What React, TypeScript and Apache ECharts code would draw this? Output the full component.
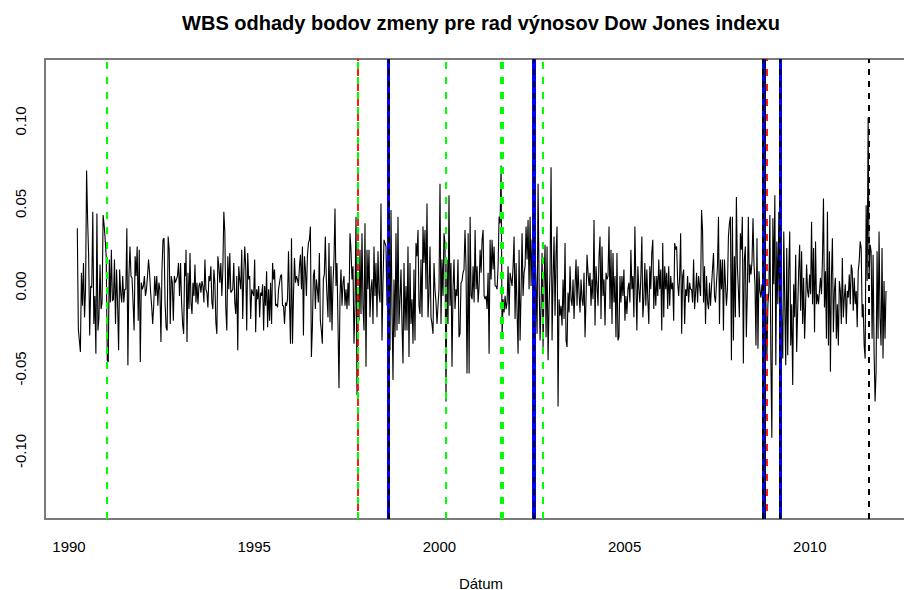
import React, { useEffect, useRef } from "react";
import * as echarts from "echarts";

const TITLE = "WBS odhady bodov zmeny pre rad výnosov Dow Jones indexu";
const X_NAME = "Dátum";
const xTicks = [1990, 1995, 2000, 2005, 2010];
const yTicks = [-0.1, -0.05, 0, 0.05, 0.1];

// weekly returns in six consecutive stretches
const segStart = [1990.224, 1993.159, 1996.965, 2000.775, 2004.579, 2008.386];
const segEnd = [1993.151, 1996.947, 2000.772, 2004.552, 2008.367, 2012.057];

const ret1 = [0.035,-0.026,-0.033,-0.040,0.008,-0.012,0.014,-0.019,-0.002,0.070,0.040,0.018,-0.030,0.000,-0.001,0.045,-0.023,-0.006,-0.041,0.044,-0.027,-0.019,0.013,-0.014,-0.010,0.043,0.037,0.028,0.018,-0.045,-0.046,0.016,-0.010,0.022,-0.009,-0.008,0.016,-0.023,0.010,-0.010,-0.039,0.010,-0.004,-0.010,0.006,-0.010,-0.002,-0.002,0.035,-0.048,0.006,0.024,0.006,0.005,-0.010,-0.027,0.018,0.006,0.024,-0.021,0.022,-0.046,0.002,-0.002,0.000,0.006,-0.006,-0.002,0.006,0.016,0.008,-0.004,-0.012,-0.023,-0.012,0.006,-0.006,0.006,-0.012,0.002,-0.002,-0.034,0.010,0.028,0.029,-0.010,-0.025,-0.027,0.030,0.022,-0.023,0.006,0.002,-0.021,0.006,0.002,0.004,0.006,0.014,-0.006,0.014,-0.010,-0.023,-0.029,0.014,0.006];
const ret2 = [0.022,-0.034,0.008,-0.014,0.020,-0.010,-0.017,0.002,-0.006,0.013,-0.010,0.002,-0.011,0.000,0.002,-0.004,0.003,0.000,-0.010,0.016,-0.002,-0.004,-0.013,0.006,0.003,0.012,-0.010,-0.014,0.010,0.002,-0.022,-0.029,0.018,0.012,0.002,0.014,-0.006,0.010,0.045,0.033,-0.014,-0.027,0.018,-0.002,0.020,-0.004,-0.003,-0.002,0.014,-0.010,-0.017,0.006,-0.039,0.012,0.004,-0.002,0.022,-0.020,0.006,0.024,0.012,-0.027,0.020,0.004,0.006,-0.020,-0.002,-0.004,-0.006,0.016,-0.028,-0.002,-0.008,0.000,-0.019,-0.004,-0.006,0.001,-0.027,0.000,-0.012,0.009,-0.025,-0.002,-0.021,0.002,-0.023,0.014,0.004,0.010,-0.012,-0.011,-0.013,-0.002,0.002,0.006,0.007,-0.012,-0.012,-0.023,-0.010,-0.012,-0.008,0.021,-0.010,-0.035,0.029,-0.035,-0.006,0.017,0.002,0.006,0.004,0.000,0.012,0.019,-0.002,0.024,-0.030,0.018,0.010,-0.006,0.018,0.026,0.028,0.036,-0.043,-0.025,0.006,0.010,-0.014,0.004,-0.002,-0.010,0.020,-0.021,-0.027,-0.035,0.004,0.007,0.030,0.004];
const ret3 = [-0.006,-0.019,0.026,-0.022,0.012,-0.027,0.002,0.016,0.047,0.000,0.014,-0.023,-0.062,-0.006,0.010,-0.012,0.002,0.006,-0.012,-0.002,-0.014,0.002,-0.012,0.032,0.022,0.004,0.012,-0.035,-0.012,0.042,-0.066,-0.002,-0.021,0.022,-0.017,0.032,-0.012,-0.027,0.038,-0.049,0.022,-0.002,0.022,-0.019,-0.002,0.004,-0.023,0.024,-0.006,0.014,-0.019,0.021,-0.004,-0.010,0.050,-0.033,0.002,0.028,0.026,0.024,-0.012,0.048,-0.023,-0.039,0.046,-0.014,-0.057,0.004,-0.031,0.032,-0.027,0.042,-0.023,-0.008,0.010,-0.023,-0.047,0.014,-0.027,0.000,-0.027,0.024,-0.043,0.014,-0.023,-0.008,-0.035,0.010,-0.033,0.026,0.018,0.034,-0.012,-0.017,0.016,-0.019,0.036,0.014,0.034,-0.002,0.050,-0.019,-0.004,0.024,-0.019,-0.023,-0.029,0.014,-0.002,-0.010,-0.023,-0.012,-0.002,0.062,-0.023,0.016,-0.006,0.032,0.026,-0.070,0.016,-0.023,0.055,-0.012,0.014,-0.049,-0.002,0.016,-0.014,-0.002,-0.006,0.016,-0.031,-0.029,0.002,0.003,0.008,0.010,0.034,0.012,-0.053,0.006];
const ret4 = [0.032,-0.053,0.042,-0.006,-0.008,0.012,-0.010,0.034,-0.002,0.012,-0.010,0.000,0.022,0.008,0.028,0.034,-0.006,-0.008,-0.006,-0.014,0.008,-0.041,0.028,0.004,0.028,0.010,0.024,0.000,0.000,-0.002,0.012,0.042,0.038,0.073,-0.031,-0.008,-0.016,-0.006,-0.014,-0.010,0.012,-0.018,0.008,0.004,0.000,0.012,0.030,-0.020,0.014,-0.016,-0.041,0.022,-0.033,-0.004,0.032,-0.006,0.008,0.012,0.036,0.016,0.040,-0.002,0.042,0.000,0.028,0.028,-0.077,0.022,0.000,-0.029,0.062,0.004,-0.033,-0.012,0.020,-0.037,0.002,0.025,-0.031,0.024,-0.045,-0.012,0.008,0.072,-0.033,0.004,0.030,-0.018,0.020,0.036,-0.073,-0.008,-0.018,-0.012,-0.024,0.004,-0.020,0.026,-0.033,-0.037,-0.004,-0.016,0.012,-0.008,-0.012,0.004,-0.020,0.000,0.016,-0.012,0.012,-0.004,-0.016,0.004,-0.008,-0.012,0.008,-0.031,-0.008,0.019,0.008,0.000,0.008,-0.012,0.004,-0.008,0.040,-0.024,0.012,0.000,-0.012,0.018,0.030,-0.020,0.024,-0.006,0.004,-0.024,0.008,0.004,0.006];
const ret5 = [0.036,-0.014,0.022,-0.023,0.020,-0.010,0.006,-0.031,0.020,-0.033,-0.031,0.006,-0.010,0.006,-0.006,0.010,-0.021,-0.006,-0.017,-0.002,0.002,-0.010,0.022,-0.002,0.006,-0.019,0.036,0.002,-0.027,0.012,-0.002,-0.010,0.006,0.030,-0.019,-0.008,0.014,-0.012,0.010,-0.008,-0.023,0.012,-0.002,0.020,0.028,-0.014,0.006,-0.012,0.006,-0.006,0.016,-0.002,0.010,-0.027,0.026,-0.019,0.012,-0.002,0.008,-0.014,0.012,-0.012,0.006,-0.002,0.002,-0.021,0.026,0.022,0.024,0.002,-0.006,0.006,0.032,-0.029,0.006,0.010,-0.023,-0.002,-0.006,0.006,-0.010,0.002,-0.002,-0.002,-0.010,0.016,-0.014,-0.004,0.008,-0.010,0.006,0.000,-0.006,0.046,0.034,-0.010,0.012,-0.023,0.006,-0.010,-0.014,0.002,-0.012,0.000,0.010,0.020,-0.006,-0.010,0.002,0.012,0.042,-0.023,0.016,-0.002,0.016,-0.027,0.016,0.002,-0.012,-0.002,0.030,0.038,0.042,-0.045,0.042,-0.033,0.018,-0.019,0.054,0.012,-0.002,-0.019,0.032,0.022,0.042,-0.047,0.016,0.024,-0.031,-0.004,0.042,0.002];
const ret6 = [0.013,0.007,0.015,0.041,0.013,0.001,-0.036,0.029,-0.038,0.009,-0.003,-0.007,0.001,-0.011,0.059,-0.021,-0.009,-0.044,-0.011,-0.003,0.043,-0.044,-0.092,0.041,0.001,0.055,-0.048,0.027,-0.011,0.045,-0.032,0.017,-0.019,-0.044,0.033,-0.011,-0.048,0.023,-0.042,0.009,0.033,-0.036,-0.011,-0.060,0.001,-0.019,0.019,-0.040,-0.015,0.009,0.025,-0.015,0.021,-0.023,0.005,-0.032,-0.011,0.013,-0.003,-0.007,0.007,-0.005,0.039,-0.011,0.023,-0.028,0.027,-0.011,-0.005,-0.011,-0.003,0.005,-0.005,0.017,0.053,-0.013,0.009,-0.032,0.045,-0.036,0.021,-0.052,0.005,0.029,-0.028,-0.003,0.005,-0.032,-0.011,-0.036,0.003,-0.003,-0.023,0.017,-0.019,-0.007,0.001,-0.023,-0.003,-0.007,0.007,-0.011,0.013,0.009,-0.015,0.005,-0.011,-0.003,-0.025,0.009,0.015,0.027,0.023,-0.019,-0.011,-0.036,-0.044,0.049,0.003,0.102,0.005,0.025,0.021,-0.032,0.019,-0.040,-0.070,-0.052,0.021,-0.032,0.033,-0.019,-0.036,0.023,-0.044,0.003,-0.032,-0.003];

const segments = [ret1, ret2, ret3, ret4, ret5, ret6];

// estimated change points (decimal years)
const greenDashed = [1991.02, 1997.794, 2000.18, 2001.65, 2001.72, 2002.78];
const redDashed = [1997.794, 2008.853];
const blueSolid = [1998.63, 2002.53, 2002.56, 2008.737, 2009.2];
const blackDashed = [1998.63, 2002.545, 2008.737, 2009.2, 2011.6];
const blackSolid = [2008.79];

const FONT = "'Liberation Sans', Arial, sans-serif";

function buildSeries() {
  const pts: number[][] = [];
  segments.forEach((seg, s) => {
    const a = segStart[s];
    const b = segEnd[s];
    const step = (b - a) / (seg.length - 1);
    seg.forEach((v, i) => pts.push([a + i * step, v]));
  });
  return pts;
}

function vlines(name: string, xs: number[], style: any, z: number) {
  return {
    name,
    type: "line",
    data: [],
    z,
    silent: true,
    markLine: {
      silent: true,
      animation: false,
      symbol: ["none", "none"],
      label: { show: false },
      emphasis: { disabled: true },
      lineStyle: style,
      data: xs.map((x) => ({ xAxis: x })),
    },
  };
}

export default function App() {
  const ref = useRef<HTMLDivElement>(null);
  useEffect(() => {
    if (!ref.current) return;
    const chart = echarts.init(ref.current, null, { renderer: "svg" });
    const axisLineStyle = { color: "#7a7a7a", width: 2 };
    chart.setOption({
      animation: false,
      backgroundColor: "#ffffff",
      grid: { left: 45, right: 0, top: 59, bottom: 71, containLabel: false },
      xAxis: [
        {
          type: "value",
          position: "bottom",
          min: 1989.352,
          max: 2012.543,
          axisLine: { show: true, onZero: false, lineStyle: axisLineStyle },
          axisTick: { show: false },
          splitLine: { show: false },
          axisLabel: {
            customValues: xTicks,
            formatter: (v: number) => String(Math.round(v)),
            color: "#000",
            fontSize: 15,
            fontFamily: FONT,
            margin: 20,
          },
        },
        {
          type: "value",
          position: "top",
          min: 1989.352,
          max: 2012.543,
          axisLine: { show: true, onZero: false, lineStyle: axisLineStyle },
          axisTick: { show: false },
          splitLine: { show: false },
          axisLabel: { show: false },
        },
      ],
      yAxis: {
        type: "value",
        min: -0.14121,
        max: 0.13758,
        axisLine: { show: true, onZero: false, lineStyle: axisLineStyle },
        axisTick: { show: false },
        splitLine: { show: false },
        axisLabel: {
          customValues: yTicks,
          formatter: (v: number) => v.toFixed(2),
          rotate: 90,
          color: "#000",
          fontSize: 15,
          fontFamily: FONT,
          margin: 17,
        },
      },
      graphic: [
        {
          type: "text",
          x: 481,
          y: 23,
          style: {
            text: TITLE,
            font: `bold 20px ${FONT}`,
            fill: "#000",
            align: "center",
            verticalAlign: "middle",
          },
        },
        {
          type: "text",
          x: 481,
          y: 583,
          style: {
            text: X_NAME,
            font: `15px ${FONT}`,
            fill: "#000",
            align: "center",
            verticalAlign: "middle",
          },
        },
      ],
      series: [
        {
          name: "returns",
          type: "line",
          data: buildSeries(),
          showSymbol: false,
          symbol: "none",
          lineStyle: { color: "#000", width: 1.1 },
          silent: true,
          z: 2,
        },
        vlines("green", greenDashed, { color: "#00ff00", width: 2, type: [7, 8] }, 3),
        vlines("red", redDashed, { color: "#ff0000", width: 1.8, type: [7, 8], dashOffset: 7 }, 4),
        vlines("blue", blueSolid, { color: "#0000ff", width: 3, type: "solid" }, 5),
        vlines("blackDashed", blackDashed, { color: "#000", width: 2, type: [6, 6] }, 6),
        vlines("blackSolid", blackSolid, { color: "#000", width: 1, type: "solid" }, 7),
      ],
    });
    return () => chart.dispose();
  }, []);
  return (
    <div
      ref={ref}
      style={{ position: "absolute", left: 0, top: 0, width: 904, height: 590, background: "#fff" }}
    />
  );
}
